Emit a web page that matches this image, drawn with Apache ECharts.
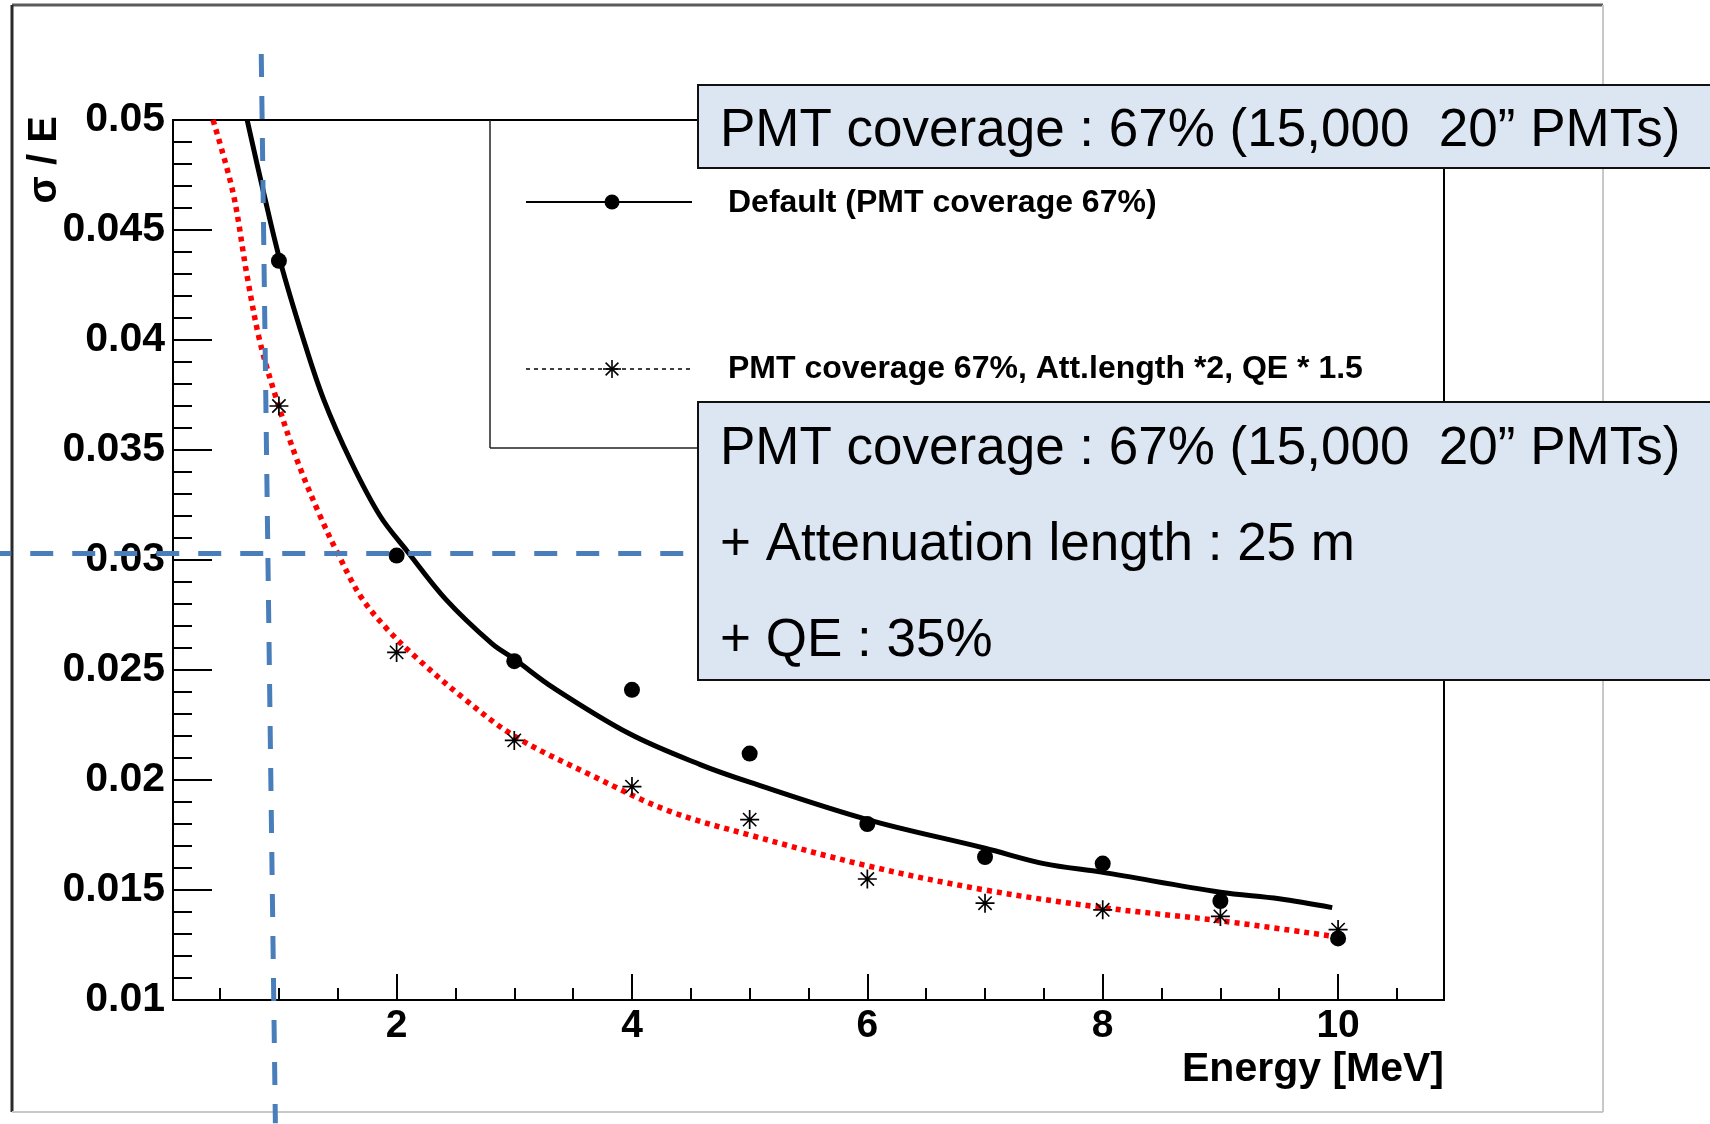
<!DOCTYPE html>
<html>
<head>
<meta charset="utf-8">
<script src="https://cdn.jsdelivr.net/npm/echarts@6/dist/echarts.min.js"></script>
<style>
  html, body { margin: 0; padding: 0; background: #ffffff; }
  #chart { width: 1710px; height: 1124px; }
</style>
</head>
<body>
<div id="chart"></div>
<script>
// Energy resolution sigma/E versus visible energy
const energies = [1, 2, 3, 4, 5, 6, 7, 8, 9, 10];
const sigmaDefault = [0.0436, 0.0302, 0.0254, 0.0241, 0.0212, 0.0180, 0.0165, 0.0162, 0.0145, 0.0128];
const sigmaImproved = [0.0370, 0.0258, 0.0218, 0.0197, 0.0182, 0.0155, 0.0144, 0.0141, 0.0138, 0.0132];

// Fitted resolution curves, sampled along each curve
const fitDefaultE = [0.73, 0.87, 1.01, 1.21, 1.38, 1.61, 1.86, 2.09, 2.42, 2.81, 3.0, 3.33, 3.98, 4.58, 5.0, 6.0, 7.0, 7.5, 8.0, 9.0, 9.5, 9.95];
const fitDefaultSigma = [0.0500, 0.0467, 0.0436, 0.0400, 0.0373, 0.0345, 0.0320, 0.0304, 0.0282, 0.0262, 0.0255, 0.0242, 0.0221, 0.0207, 0.0199, 0.0182, 0.0169, 0.0162, 0.0158, 0.0149, 0.0146, 0.0142];
const fitImprovedE = [0.44, 0.61, 0.73, 0.84, 0.98, 1.15, 1.35, 1.50, 1.70, 1.93, 2.16, 2.55, 3.0, 3.66, 4.31, 5.0, 6.0, 7.0, 8.0, 9.0, 9.95];
const fitImprovedSigma = [0.0500, 0.0467, 0.0429, 0.0399, 0.0373, 0.0346, 0.0320, 0.0303, 0.0283, 0.0268, 0.0256, 0.0238, 0.0220, 0.0202, 0.0186, 0.0175, 0.0161, 0.0150, 0.0142, 0.0136, 0.0129];

// Axis ticks
const xMajorTicks = [2, 4, 6, 8, 10];
const xMinorTicks = [0.5, 1, 1.5, 2.5, 3, 3.5, 4.5, 5, 5.5, 6.5, 7, 7.5, 8.5, 9, 9.5, 10.5];

// Hand-drawn guide lines (data units)
const guideVertical = [[0.85, 0.0530], [0.97, 0.0044]];
const guideHorizontal = [[-1.47, 0.0303], [4.6, 0.0303]];

// Texts
const legendLabels = ['Default (PMT coverage 67%)', 'PMT coverage 67%, Att.length *2, QE * 1.5'];
const noteTop = ['PMT coverage : 67% (15,000  20\u201D PMTs)'];
const noteBottom = ['PMT coverage : 67% (15,000  20\u201D PMTs)', '+ Attenuation length : 25 m', '+ QE : 35%'];
const xTitle = 'Energy [MeV]';
const yTitle = '\u03C3 / E';

const FONT = 'Liberation Sans, Arial, Helvetica, sans-serif';
const BOX_FILL = '#dce6f2';
const GUIDE_BLUE = '#4a7ebb';

const pairs = (xs, ys) => xs.map((x, i) => [x, ys[i]]);

// eight-armed asterisk marker
const ASTERISK = 'path://M-0.9,-10L0.9,-10L0.9,10L-0.9,10Z' +
  'M-10,-0.9L10,-0.9L10,0.9L-10,0.9Z' +
  'M-6.4,-7.6L7.6,6.4L6.4,7.6L-7.6,-6.4Z' +
  'M6.4,-7.6L7.6,-6.4L-6.4,7.6L-7.6,6.4Z';

const chart = echarts.init(document.getElementById('chart'), null, { renderer: 'canvas' });

const GRID = { left: 173, top: 120, width: 1271, height: 880 };

chart.setOption({
  animation: false,
  backgroundColor: '#ffffff',
  grid: {
    left: GRID.left, top: GRID.top, width: GRID.width, height: GRID.height,
    show: true, borderColor: '#000', borderWidth: 2, backgroundColor: 'transparent'
  },
  xAxis: [
    {
      type: 'value', min: 0.1, max: 10.9, position: 'bottom',
      axisLine: { show: true, onZero: false, lineStyle: { color: '#000', width: 2 } },
      axisTick: { show: true, inside: true, length: 26, customValues: xMajorTicks, lineStyle: { color: '#000', width: 2 } },
      axisLabel: {
        show: true, customValues: xMajorTicks, margin: 7,
        color: '#000', fontFamily: FONT, fontWeight: 'bold', fontSize: 39
      },
      splitLine: { show: false }
    },
    {
      type: 'value', min: 0.1, max: 10.9, position: 'bottom', gridIndex: 0,
      axisLine: { show: false, onZero: false },
      axisTick: { show: true, inside: true, length: 12, customValues: xMinorTicks, lineStyle: { color: '#000', width: 2 } },
      axisLabel: { show: false },
      splitLine: { show: false }
    }
  ],
  yAxis: {
    type: 'value', min: 0.01, max: 0.05, interval: 0.005,
    axisLine: { show: true, onZero: false, lineStyle: { color: '#000', width: 2 } },
    axisTick: { show: true, inside: true, length: 39, lineStyle: { color: '#000', width: 2 } },
    minorTick: { show: true, splitNumber: 5, length: 19, lineStyle: { color: '#000', width: 2 } },
    axisLabel: {
      margin: 8, color: '#000', fontFamily: FONT, fontWeight: 'bold', fontSize: 41,
      formatter: v => String(parseFloat(v.toFixed(3)))
    },
    splitLine: { show: false }
  },
  series: [
    {
      name: 'fit default', type: 'line', xAxisIndex: 0,
      data: pairs(fitDefaultE, fitDefaultSigma),
      smooth: 0.35, showSymbol: false, symbol: 'none',
      lineStyle: { color: '#000', width: 5 }, z: 2
    },
    {
      name: 'fit improved', type: 'line', xAxisIndex: 0,
      data: pairs(fitImprovedE, fitImprovedSigma),
      smooth: 0.35, showSymbol: false, symbol: 'none',
      lineStyle: { color: '#ff0000', width: 5.5, type: [5, 5], cap: 'butt' }, z: 2
    },
    {
      name: legendLabels[0], type: 'scatter', xAxisIndex: 0,
      data: pairs(energies, sigmaDefault),
      symbol: 'circle', symbolSize: 16,
      itemStyle: { color: '#000', opacity: 1 }, z: 3
    },
    {
      name: legendLabels[1], type: 'scatter', xAxisIndex: 0,
      data: pairs(energies, sigmaImproved),
      symbol: ASTERISK, symbolSize: 19,
      itemStyle: { color: '#000', opacity: 1 }, z: 3
    }
  ]
});

// Overlay: canvas frame, legend, note boxes and guide lines
function overlay() {
  const px = p => chart.convertToPixel({ gridIndex: 0 }, p);
  const gv0 = px(guideVertical[0]), gv1 = px(guideVertical[1]);
  const gh0 = px(guideHorizontal[0]), gh1 = px(guideHorizontal[1]);
  const plotRight = GRID.left + GRID.width;

  const line = (x1, y1, x2, y2, stroke, width, z, dash) => ({
    type: 'line', z: z, silent: true,
    shape: { x1, y1, x2, y2 },
    style: { stroke, lineWidth: width, lineDash: dash || null }
  });
  const text = (x, y, str, size, weight, align, z, extra) => Object.assign({
    type: 'text', z: z, silent: true, x, y,
    style: {
      text: str, fill: '#000', fontFamily: FONT, fontSize: size, fontWeight: weight,
      align: align, verticalAlign: 'middle'
    }
  }, extra || {});

  const els = [];
  // canvas frame
  els.push(line(12, 5, 1603, 5, '#5a5a5a', 3, 1));
  els.push(line(12, 5, 12, 1112, '#2a2a2a', 3, 1));
  els.push(line(1603, 5, 1603, 1112, '#c8c8c8', 2, 1));
  els.push(line(12, 1112, 1603, 1112, '#c8c8c8', 2, 1));

  // legend frame
  els.push(line(490, 120, 490, 448, '#222', 1.5, 5));
  els.push(line(490, 448, plotRight, 448, '#222', 1.5, 5));

  // legend entry 1: solid line with filled circle
  els.push(line(526, 202, 692, 202, '#000', 2, 6));
  els.push({ type: 'circle', z: 6, silent: true, shape: { cx: 612, cy: 202, r: 7.5 }, style: { fill: '#000' } });
  els.push(text(728, 203, legendLabels[0], 32, 'bold', 'left', 6));

  // legend entry 2: dashed line with asterisk
  els.push(line(526, 369, 692, 369, '#000', 1.5, 6, [4, 4]));
  const ac = [612, 369], ar = 9;
  [[0, 1], [1, 0], [0.707, 0.707], [0.707, -0.707]].forEach(d => {
    els.push(line(ac[0] - d[0] * ar, ac[1] - d[1] * ar, ac[0] + d[0] * ar, ac[1] + d[1] * ar, '#000', 1.6, 6));
  });
  els.push(text(728, 369, legendLabels[1], 32, 'bold', 'left', 6));

  // axis titles
  els.push(text(1444, 1070, xTitle, 41, 'bold', 'right', 6));
  els.push(text(45, 116, yTitle, 40, 'bold', 'right', 6, { rotation: Math.PI / 2 }));

  // guide lines
  els.push(line(gv0[0], gv0[1], gv1[0], gv1[1], GUIDE_BLUE, 5, 20, [23, 19]));
  els.push(line(gh0[0], gh0[1], gh1[0], gh1[1], GUIDE_BLUE, 5, 20, [23, 19]));

  // note boxes
  els.push({ type: 'rect', z: 30, silent: true, shape: { x: 698, y: 85, width: 1030, height: 83 },
    style: { fill: BOX_FILL, stroke: '#111', lineWidth: 2 } });
  els.push(text(720, 131, noteTop[0], 53, 'normal', 'left', 31));

  els.push({ type: 'rect', z: 30, silent: true, shape: { x: 698, y: 402, width: 1030, height: 278 },
    style: { fill: BOX_FILL, stroke: '#111', lineWidth: 2 } });
  const noteY = [449, 545, 641];
  noteBottom.forEach((s, i) => els.push(text(720, noteY[i], s, 53, 'normal', 'left', 31)));

  chart.setOption({ graphic: { elements: els } });
}
overlay();
</script>
</body>
</html>
